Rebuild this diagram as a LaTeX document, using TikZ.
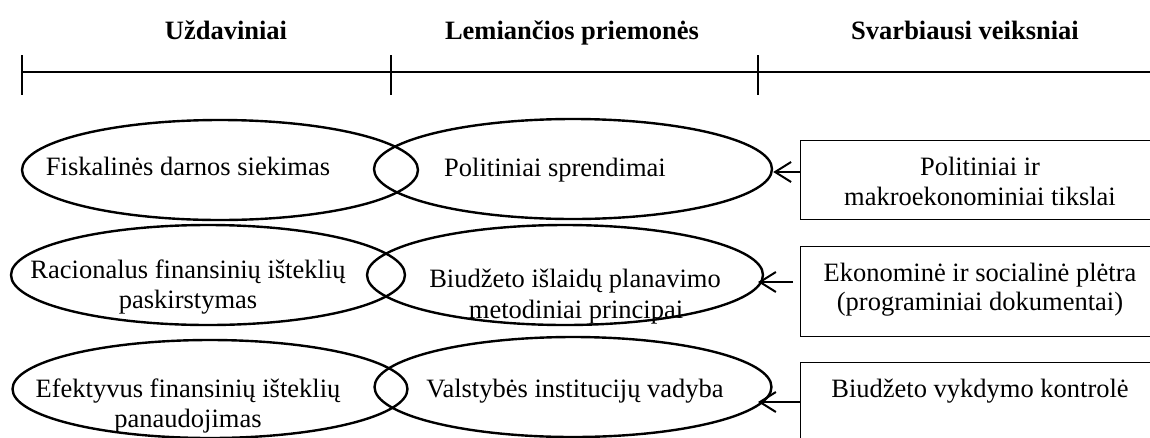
\documentclass[tikz,border=0pt]{standalone}
\usepackage{fontspec}
\setmainfont{Liberation Serif}
\usetikzlibrary{shapes.geometric,arrows.meta}
\begin{document}
\begin{tikzpicture}[x=1pt,y=-1pt,
  txt/.style={inner sep=0pt,anchor=base,font=\fontsize{26.5}{31}\selectfont},
  hdr/.style={inner sep=0pt,anchor=base,font=\fontsize{26.5}{31}\selectfont\bfseries},
  ell/.style={ellipse,draw,line width=2.4pt,inner sep=0pt},
  fbox/.style={draw,line width=1.3pt,inner sep=0pt},
  arr/.style={line width=2pt,-{Straight Barb[length=16pt,width=20pt,line width=2pt]}},
  axis/.style={line width=2pt}]
\useasboundingbox (0,0) rectangle (1150,437);
\clip (0,0) rectangle (1150,437);
% header axis
\coordinate (h0) at (22,72);
\coordinate (h1) at (391,72);
\coordinate (h2) at (758,72);
\coordinate (h3) at (1152,72);
\draw[axis] (h0) -- (h3);
\draw[axis] (22,55) -- (22,95);
\draw[axis] (391,55) -- (391,95);
\draw[axis] (758,55) -- (758,95);
\node[hdr] (hu) at (226,39) {Uždaviniai};
\node[hdr] (hl) at (572,39) {Lemiančios priemonės};
\node[hdr] (hs) at (965,39) {Svarbiausi veiksniai};
% ellipses
\node[ell,minimum width=396pt,minimum height=100pt] (l1) at (220,170) {};
\node[ell,minimum width=398pt,minimum height=100pt] (r1) at (573,169) {};
\node[ell,minimum width=394pt,minimum height=100pt] (l2) at (208,275) {};
\node[ell,minimum width=396pt,minimum height=100pt] (r2) at (565,275) {};
\node[ell,minimum width=395pt,minimum height=98pt] (l3) at (210,389) {};
\node[ell,minimum width=397pt,minimum height=100pt] (r3) at (573,387) {};
% ellipse texts
\node[txt] (tl1) at (188,175) {Fiskalinės darnos siekimas};
\node[txt] (tr1) at (555,176) {Politiniai sprendimai};
\node[txt] (tl2a) at (188,278) {Racionalus finansinių išteklių};
\node[txt] (tl2b) at (188,308) {paskirstymas};
\node[txt] (tr2a) at (575,287) {Biudžeto išlaidų planavimo};
\node[txt] (tr2b) at (576,318) {metodiniai principai};
\node[txt] (tl3a) at (188,397) {Efektyvus finansinių išteklių};
\node[txt] (tl3b) at (188,427) {panaudojimas};
\node[txt] (tr3) at (575,397) {Valstybės institucijų vadyba};
% boxes
\node[fbox,minimum width=360pt,minimum height=79pt,anchor=north west] (b1) at (800,140) {};
\node[txt] (tb1a) at (980,175) {Politiniai ir};
\node[txt] (tb1b) at (980,205) {makroekonominiai tikslai};
\node[fbox,minimum width=360pt,minimum height=90pt,anchor=north west] (b2) at (800,246) {};
\node[txt] (tb2a) at (980,281) {Ekonominė ir socialinė plėtra};
\node[txt] (tb2b) at (980,310) {(programiniai dokumentai)};
\node[fbox,minimum width=360pt,minimum height=110pt,anchor=north west] (b3) at (800,362) {};
\node[txt] (tb3) at (980,397) {Biudžeto vykdymo kontrolė};
% arrows
\coordinate (p1) at (b1.west |- 0,172);
\coordinate (q1) at (r1.east |- p1);
\coordinate (p2) at (793,282);
\coordinate (q2) at (758,282);
\coordinate (p3) at (b3.west |- 0,402);
\coordinate (q3) at (758,402);
\draw[arr] (p1) -- (q1);
\draw[arr] (p2) -- (q2);
\draw[arr] (p3) -- (q3);
\end{tikzpicture}
\end{document}
